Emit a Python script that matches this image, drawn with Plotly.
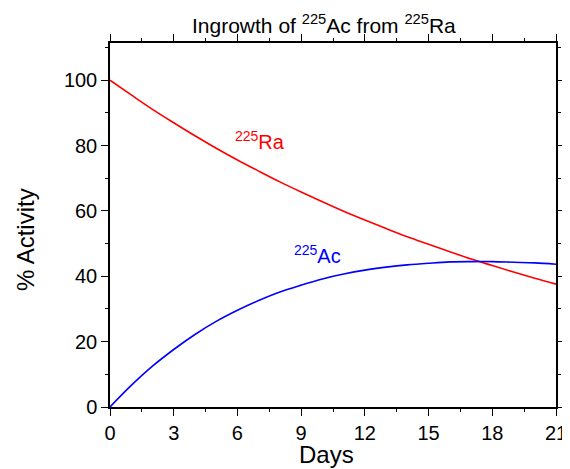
import plotly.graph_objects as go

days = list(range(0, 22))
ra_activity = [100.0, 95.5, 91.1, 87.0, 83.0, 79.2, 75.6, 72.2, 68.9, 65.8, 62.8,
               59.9, 57.2, 54.6, 52.1, 49.8, 47.5, 45.3, 43.3, 41.3, 39.4, 37.6]
ac_activity = [0.0, 6.6, 12.5, 17.6, 22.2, 26.2, 29.6, 32.6, 35.2, 37.3, 39.2,
               40.7, 41.9, 42.8, 43.5, 44.0, 44.4, 44.5, 44.5, 44.3, 44.1, 43.7]
x_ticks = [0, 3, 6, 9, 12, 15, 18, 21]
y_ticks = [0, 20, 40, 60, 80, 100]

FONT = "Arial, Liberation Sans, sans-serif"
OFF = 8  # default body margin of the page
W, H = 570, 469
L, R, T, B = 110, 14, 43, 62
PW, PH = W - L - R, H - T - B


def px(xp):
    return (xp - L) / PW


def py(yp):
    return (H - B - yp) / PH


fig = go.Figure()
fig.add_trace(go.Scatter(x=days, y=ra_activity, mode="lines",
                         line=dict(color="#ff0000", width=1.6, shape="spline"),
                         showlegend=False))
fig.add_trace(go.Scatter(x=days, y=ac_activity, mode="lines",
                         line=dict(color="#0000ff", width=1.6, shape="spline"),
                         showlegend=False))

fig.add_annotation(x=7.05, y=81.6, text="<sup>225</sup>Ra", showarrow=False,
                   font=dict(family=FONT, size=20, color="#ff0000"))
fig.add_annotation(x=9.75, y=46.6, text="<sup>225</sup>Ac", showarrow=False,
                   font=dict(family=FONT, size=20, color="#0000ff"))

# axis titles
fig.add_annotation(xref="paper", yref="paper", x=px(326), y=py(454), text="Days",
                   showarrow=False, xanchor="center", yanchor="middle",
                   font=dict(family=FONT, size=24, color="black"))
fig.add_annotation(xref="paper", yref="paper", x=px(25), y=py(240), text="% Activity",
                   showarrow=False, xanchor="center", yanchor="middle", textangle=-90,
                   font=dict(family=FONT, size=24, color="black"))
# title
fig.add_annotation(xref="paper", yref="paper", x=px(324), y=py(24),
                   text="Ingrowth of <sup>225</sup>Ac from <sup>225</sup>Ra",
                   showarrow=False, xanchor="center", yanchor="middle",
                   font=dict(family=FONT, size=21, color="black"))

axis_common = dict(showline=True, linecolor="black", linewidth=1.5,
                   mirror="allticks", ticks="outside", ticklen=7, tickwidth=1.2,
                   tickcolor="black", showgrid=False, zeroline=False, automargin=False,
                   tickfont=dict(family=FONT, size=20, color="black"))

fig.update_layout(
    width=W - OFF, height=H - OFF,
    margin=dict(l=L - OFF, r=R, t=T - OFF, b=B, autoexpand=False),
    paper_bgcolor="white", plot_bgcolor="white",
    xaxis=dict(range=[0, 21], tickvals=x_ticks,
               minor=dict(dtick=1.5, ticks="outside", ticklen=3.5, tickwidth=1.2, tickcolor="black"),
               **axis_common),
    yaxis=dict(range=[0, 111.4], tickvals=y_ticks,
               minor=dict(dtick=10, ticks="outside", ticklen=3.5, tickwidth=1.2, tickcolor="black"),
               **axis_common),
)

fig.write_html("out.html")
